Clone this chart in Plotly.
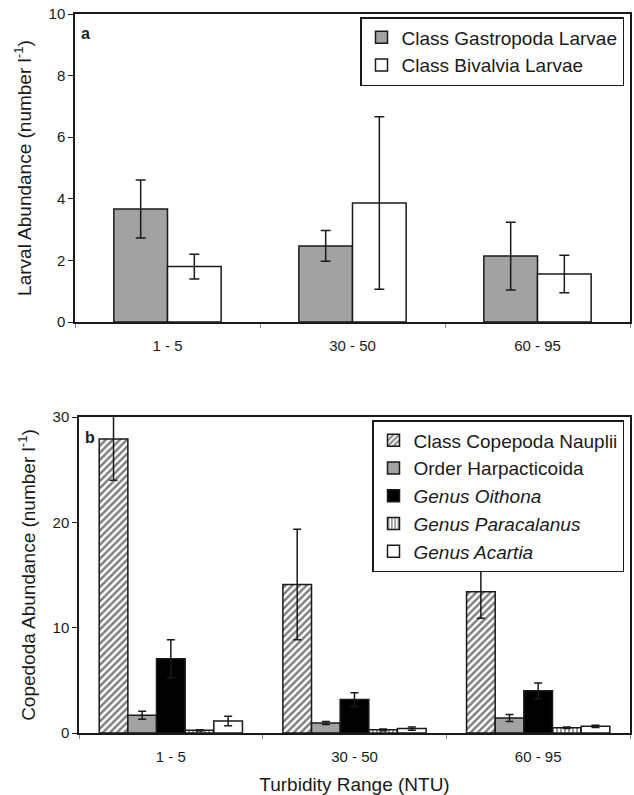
import plotly.graph_objects as go

# Turbidity classes (NTU)
turbidity = ["1 - 5", "30 - 50", "60 - 95"]

# Panel a: larval abundance (number per litre), mean and error
gastropoda = [3.67, 2.47, 2.14]
gastropoda_err = [0.94, 0.50, 1.10]
bivalvia = [1.80, 3.86, 1.56]
bivalvia_err = [0.40, 2.80, 0.61]

# Panel b: copepod abundance (number per litre), mean and error
nauplii = [27.9, 14.1, 13.4]
nauplii_err = [3.9, 5.25, 2.5]
harpacticoida = [1.68, 0.95, 1.43]
harpacticoida_err = [0.38, 0.15, 0.33]
oithona = [7.05, 3.17, 4.0]
oithona_err = [1.8, 0.65, 0.75]
paracalanus = [0.25, 0.30, 0.50]
paracalanus_err = [0.05, 0.08, 0.08]
acartia = [1.14, 0.42, 0.63]
acartia_err = [0.45, 0.15, 0.10]

FONT = "Liberation Sans, Arial, sans-serif"
INK = "#1a1a1a"
GREY = "#a2a2a2"

# bar widths in category units for each panel
WA = 0.29
WB = 0.156

fig = go.Figure()


def err(arr, w):
    return dict(type="data", array=arr, visible=True, color=INK, thickness=1.5, width=w)


def add_bar(name, y, e, xa, ya, legend, color, width, offset, pattern=None, w=5):
    fig.add_trace(go.Bar(
        x=turbidity, y=y, name=name, xaxis=xa, yaxis=ya, legend=legend,
        width=width, offset=offset,
        marker=dict(color=color, line=dict(color=INK, width=1.5),
                    pattern=pattern if pattern else dict(shape="")),
        error_y=err(e, w),
    ))


# panel a
add_bar("Class Gastropoda Larvae", gastropoda, gastropoda_err, "x", "y", "legend", GREY, WA, -WA)
add_bar("Class Bivalvia Larvae", bivalvia, bivalvia_err, "x", "y", "legend", "white", WA, 0)

# panel b
add_bar("Class Copepoda Nauplii", nauplii, nauplii_err, "x2", "y2", "legend2", "white", WB, -2.5 * WB,
        dict(shape="/", fgcolor="black", bgcolor="white", size=5, solidity=0.5), w=4)
add_bar("Order Harpacticoida", harpacticoida, harpacticoida_err, "x2", "y2", "legend2", GREY,
        WB, -1.5 * WB, w=4)
add_bar("<i>Genus Oithona</i>", oithona, oithona_err, "x2", "y2", "legend2", "black",
        WB, -0.5 * WB, w=4)
add_bar("<i>Genus Paracalanus</i>", paracalanus, paracalanus_err, "x2", "y2", "legend2", "white",
        WB, 0.5 * WB, dict(shape="|", fgcolor="black", bgcolor="white", size=4, solidity=0.4), w=4)
add_bar("<i>Genus Acartia</i>", acartia, acartia_err, "x2", "y2", "legend2", "white",
        WB, 1.5 * WB, w=4)

W, H = 634, 795

xa_common = dict(
    type="category", showline=True, linecolor=INK, linewidth=1.5, mirror=True,
    ticks="outside", tickson="boundaries", ticklen=4, tickcolor="#888",
    tickfont=dict(family=FONT, size=15, color=INK), ticklabelstandoff=9,
    showgrid=False, zeroline=False, automargin=False, range=[-0.5, 2.5],
)
ya_common = dict(
    showline=True, linecolor=INK, linewidth=1.5, mirror=True,
    ticks="outside", ticklen=5, tickcolor=INK,
    tickfont=dict(family=FONT, size=15, color=INK),
    showgrid=False, zeroline=False, automargin=False,
)

legend_common = dict(
    bgcolor="white", bordercolor=INK, borderwidth=1.5,
    font=dict(family=FONT, size=19, color=INK),
    xanchor="right", yanchor="top", itemwidth=30, tracegroupgap=0,
    itemclick=False, itemdoubleclick=False,
)

fig.update_layout(
    width=W, height=H, autosize=False,
    margin=dict(l=0, r=0, t=0, b=0),
    paper_bgcolor="white", plot_bgcolor="white",
    barmode="group",
    font=dict(family=FONT, color=INK),
    xaxis=dict(domain=[75 / W, 630 / W], anchor="y", **xa_common),
    yaxis=dict(domain=[1 - 322 / H, 1 - 14 / H], anchor="x", range=[0, 10],
               tickvals=[0, 2, 4, 6, 8, 10],
               title=dict(text="Larval Abundance (number l<sup>-1</sup>)",
                          font=dict(family=FONT, size=19, color=INK), standoff=12),
               **ya_common),
    xaxis2=dict(domain=[79 / W, 630 / W], anchor="y2",
                title=dict(text="Turbidity Range (NTU)",
                           font=dict(family=FONT, size=19, color=INK), standoff=16),
                **xa_common),
    yaxis2=dict(domain=[1 - 733 / H, 1 - 417 / H], anchor="x2", range=[0, 30],
                tickvals=[0, 10, 20, 30],
                title=dict(text="Copedoda Abundance (number l<sup>-1</sup>)",
                           font=dict(family=FONT, size=19, color=INK), standoff=12),
                **ya_common),
    legend=dict(x=624 / W, y=1 - 17 / H, **legend_common),
    legend2=dict(x=624 / W, y=1 - 420 / H, **legend_common),
    showlegend=True,
)

# panel letters
fig.add_annotation(text="<b>a</b>", x=79 / W, y=1 - 34 / H, xref="paper", yref="paper",
                   xanchor="left", yanchor="middle", showarrow=False,
                   font=dict(family=FONT, size=16, color=INK))
fig.add_annotation(text="<b>b</b>", x=83 / W, y=1 - 437 / H, xref="paper", yref="paper",
                   xanchor="left", yanchor="middle", showarrow=False,
                   font=dict(family=FONT, size=16, color=INK))

fig.write_html("out.html")
